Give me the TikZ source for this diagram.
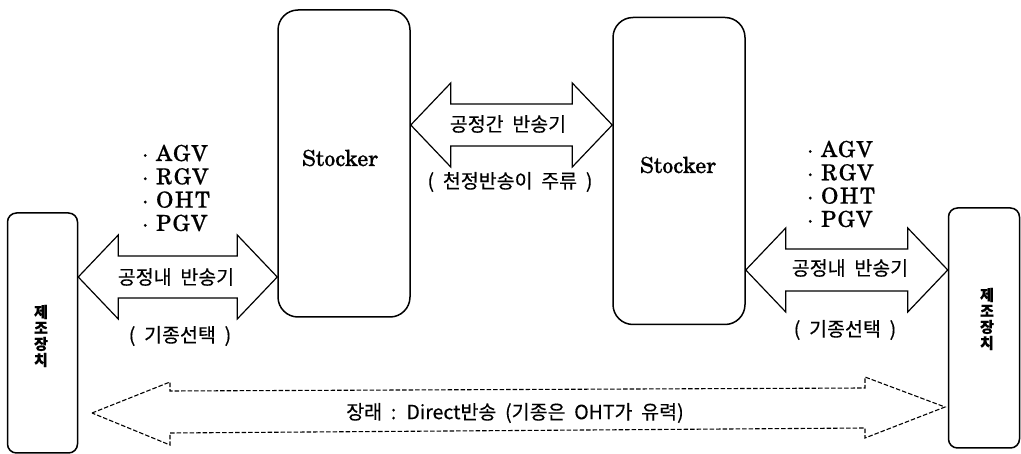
\documentclass[tikz,border=0pt]{standalone}
\usepackage{fontspec}
\setmainfont{TeX Gyre Schola}
\newfontfamily\scholafont{TeX Gyre Schola}[FakeBold=0.6]
\newfontfamily\scholalist{TeX Gyre Schola}[FakeBold=0.6, LetterSpace=8]
\newfontfamily\krfont{Noto Sans CJK KR}[WordSpace=2, FakeBold=0.3]
\usetikzlibrary{calc}

\tikzset{
  stockerbox/.style={draw, line width=1.5pt, rounded corners=20pt, minimum width=132pt, minimum height=307pt, inner sep=0pt},
  machinebox/.style={draw, line width=1.5pt, rounded corners=9pt, minimum width=70pt, minimum height=240pt, inner sep=0pt},
  serifbig/.style={font=\scholafont\fontsize{22}{23}\selectfont, inner sep=0pt},
  listtext/.style={font=\scholalist\fontsize{22}{23.3}\selectfont, align=left, inner sep=0pt, anchor=west},
  krlabel/.style={font=\krfont\fontsize{19.5}{21}\selectfont, inner sep=0pt},
  krvert/.style={font=\krfont\bfseries\fontsize{15}{16}\selectfont, align=center, inner sep=0pt},
  fatarrow/.style={draw, line width=1.2pt, line join=miter},
  dasharrow/.style={draw, line width=1.1pt, dash pattern=on 4.5pt off 2pt},
}

\newcommand\fatdbl[2]{%
  \draw[fatarrow] let \p1=(#1), \p2=(#2) in
    (\x1,\y1) -- (\x1+40pt,\y1+42pt) -- (\x1+40pt,\y1+21pt) -- (\x2-40pt,\y1+21pt)
    -- (\x2-40pt,\y1+42pt) -- (\x2,\y2) -- (\x2-40pt,\y1-42pt) -- (\x2-40pt,\y1-21pt)
    -- (\x1+40pt,\y1-21pt) -- (\x1+40pt,\y1-42pt) -- cycle;}

\begin{document}
\begin{tikzpicture}[x=1pt,y=-1pt]
\useasboundingbox (0,0) rectangle (1021,454);

% boxes
\node[machinebox] (m1) at (42.5,333) {};
\node[stockerbox] (s1) at (344,163.5) {};
\node[stockerbox] (s2) at (679,171) {};
\node[machinebox, minimum width=71pt] (m2) at (984,328) {};

% box texts
\node[serifbig] (s1t) at (340,158) {Stocker};
\node[serifbig] (s2t) at (678,165) {Stocker};
\node[krvert] (m1t) at (41,336) {제\\조\\장\\치};
\node[krvert] (m2t) at (987,319) {제\\조\\장\\치};

% fat double arrows
\coordinate (LA) at (m1.east |- 0,277);
\coordinate (LB) at (s1.west |- 0,277);
\coordinate (CA) at (s1.east |- 0,125);
\coordinate (CB) at (s2.west |- 0,125);
\coordinate (RA) at (s2.east |- 0,270);
\coordinate (RB) at (m2.west |- 0,270);
\fatdbl{LA}{LB}
\fatdbl{CA}{CB}
\fatdbl{RA}{RB}

% dashed future arrow
\coordinate (DL) at (92,413);
\coordinate (DR) at (945,407);
\draw[dasharrow] (DL) -- (170,382) -- (170,391) -- (865,388) -- (865,377) -- (DR)
  -- (865,438) -- (865,428) -- (170,433) -- (170,445) -- cycle;

% labels
\node[krlabel] (l1) at (176,277) {공정내 반송기};
\node[krlabel] (l1b) at (180,336) {( 기종선택 )};
\node[krlabel] (l2) at (508,124) {공정간 반송기};
\node[krlabel] (l2b) at (510,182) {( 천정반송이 주류 )};
\node[krlabel] (l3) at (850,268) {공정내 반송기};
\node[krlabel] (l3b) at (845,330) {( 기종선택 )};
\node[krlabel] (l4) at (515,413) {장래 : Direct반송 (기종은 OHT가 유력)};

% vehicle lists
\node[listtext] (v1) at (142,188) {· AGV\\· RGV\\· OHT\\· PGV};
\node[listtext] (v2) at (807,184) {· AGV\\· RGV\\· OHT\\· PGV};
\end{tikzpicture}
\end{document}
